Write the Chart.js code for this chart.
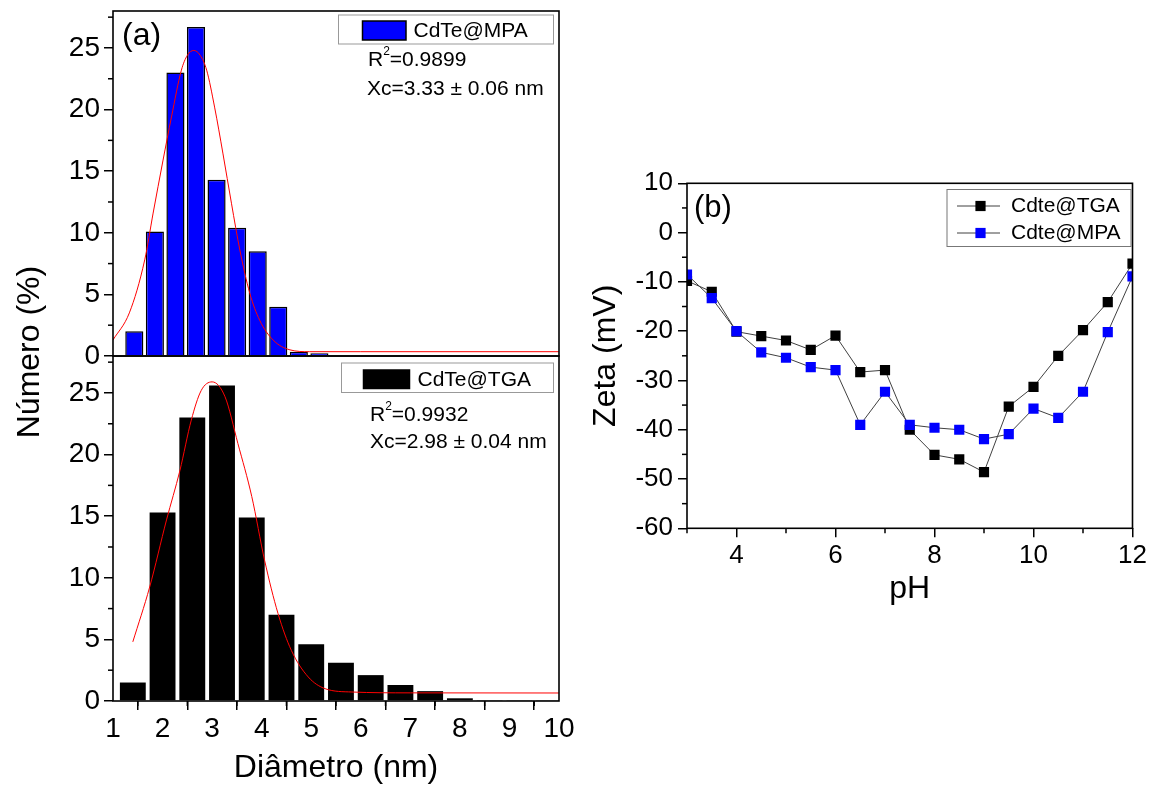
<!DOCTYPE html>
<html><head><meta charset="utf-8">
<script src="https://cdn.jsdelivr.net/npm/chart.js@4.4.1/dist/chart.umd.min.js"></script>
<style>
html,body{margin:0;padding:0;background:#fff;}
#wrap{position:relative;width:1151px;height:786px;overflow:hidden;background:#fff;}
canvas{position:absolute;left:0;top:0;}
</style></head><body>
<div id="wrap">
<canvas id="cTop" width="1151" height="786"></canvas>
<canvas id="cBot" width="1151" height="786"></canvas>
<canvas id="cZeta" width="1151" height="786"></canvas>
</div>
<script>
// ---------- data ----------
const mpaBinCenters = [1.430,1.845,2.260,2.675,3.090,3.505,3.920,4.335,4.750,5.165,5.580,5.995,6.410,6.825,7.240,7.655];
const mpaCounts     = [2.0,10.1,23.0,26.7,14.3,10.4,8.5,4.0,0.35,0.22,0.08,0.08,0.08,0.08,0.08,0.08];
const mpaFitX = [1.0,1.33,1.64,1.81,2.01,2.18,2.38,2.50,2.63,2.76,2.89,3.05,3.22,3.39,3.56,3.76,3.96,4.23,4.57,4.97,6.0,10.0];
const mpaFitY = [1.3,3.5,7.8,11.6,15.9,19.4,23.2,24.4,24.8,24.4,23.2,20.2,16.4,12.4,8.6,5.1,2.9,1.3,0.5,0.35,0.35,0.35];

const tgaBinCenters = [1.4,2.0,2.6,3.2,3.8,4.4,5.0,5.6,6.2,6.8,7.4,8.0,8.6,9.2,9.8];
const tgaCounts     = [1.5,15.3,23.0,25.6,14.9,7.0,4.6,3.1,2.1,1.3,0.8,0.22,0.08,0.08,0.08];
const tgaFitX = [1.40,1.74,2.08,2.35,2.58,2.78,3.00,3.26,3.52,3.80,4.06,4.33,4.60,4.94,5.28,5.82,7.0,10.0];
const tgaFitY = [4.8,9.25,14.7,18.7,22.8,25.2,25.9,24.7,20.9,16.6,11.4,7.1,4.1,1.95,1.0,0.73,0.66,0.65];

const histYTicks = [0,5,10,15,20,25];
const histYMinor = [2.5,7.5,12.5,17.5,22.5,27.5];
const diamTicks  = [1,2,3,4,5,6,7,8,9,10];
const diamMinor  = [1.5,2.5,3.5,4.5,5.5,6.5,7.5,8.5,9.5];

const pH      = [3,3.5,4,4.5,5,5.5,6,6.5,7,7.5,8,8.5,9,9.5,10,10.5,11,11.5,12];
const zetaTGA = [-9.8,-12.0,-20.1,-21.0,-21.9,-23.8,-20.9,-28.3,-27.9,-40.0,-45.1,-46.0,-48.6,-35.3,-31.3,-25.0,-19.8,-14.1,-6.3];
const zetaMPA = [-8.5,-13.3,-20.0,-24.3,-25.4,-27.3,-27.9,-39.0,-32.3,-39.0,-39.6,-40.0,-41.9,-40.9,-35.7,-37.6,-32.3,-20.2,-8.9];
const zetaYTicks = [-60,-50,-40,-30,-20,-10,0,10];
const zetaYMinor = [-55,-45,-35,-25,-15,-5,5];
const pHTicks = [4,6,8,10,12];
const pHMinor = [3,5,7,9,11];

// ---------- helpers ----------
const FONT = '"Liberation Sans", Arial, Helvetica, sans-serif';
Chart.defaults.font.family = FONT;
Chart.defaults.color = '#000';

function fitY(w){ return s => { s.width = w; s.paddingTop = 0; s.paddingBottom = 0; s.paddingLeft = 0; s.paddingRight = 0; }; }
function fitX(h){ return s => { s.height = h; s.paddingTop = 0; s.paddingBottom = 0; s.paddingLeft = 0; s.paddingRight = 0; }; }
function setTicks(vals){ return s => { s.ticks = vals.map(v => ({value: v})); }; }
const gridOpts = {display: true, drawOnChartArea: false, drawTicks: true, tickLength: 9, color: '#000', lineWidth: 1.5};

const framePlugin = {
  id: 'frame',
  afterDraw(chart) {
    const a = chart.chartArea, ctx = chart.ctx;
    ctx.save(); ctx.strokeStyle = '#000'; ctx.lineWidth = 1.6;
    ctx.strokeRect(a.left, a.top, a.right - a.left, a.bottom - a.top);
    ctx.restore();
  }
};
const minorPlugin = {
  id: 'minorTicks',
  afterDraw(chart, args, opts) {
    const ctx = chart.ctx;
    ctx.save(); ctx.strokeStyle = '#000'; ctx.lineWidth = 1.5;
    (opts.items || []).forEach(it => {
      const sc = chart.scales[it.scale];
      it.values.forEach(v => {
        const p = sc.getPixelForValue(v);
        ctx.beginPath();
        if (sc.isHorizontal()) { ctx.moveTo(p, sc.top); ctx.lineTo(p, sc.top + it.len); }
        else { ctx.moveTo(sc.right, p); ctx.lineTo(sc.right - it.len, p); }
        ctx.stroke();
      });
    });
    ctx.restore();
  }
};
const textPlugin = {
  id: 'texts',
  afterDraw(chart, args, opts) {
    const ctx = chart.ctx;
    (opts.items || []).forEach(it => {
      ctx.save();
      ctx.fillStyle = it.color || '#000';
      ctx.translate(it.x, it.y);
      if (it.rotate) ctx.rotate(it.rotate);
      ctx.textAlign = it.align || 'left';
      ctx.textBaseline = it.baseline || 'alphabetic';
      let x = 0;
      const parts = it.parts || [{t: it.text}];
      parts.forEach(p => {
        ctx.font = (p.sup ? it.supSize : it.size) + 'px ' + FONT;
        ctx.fillText(p.t, x, p.sup ? -it.supRise : 0);
        x += ctx.measureText(p.t).width;
      });
      ctx.restore();
    });
  }
};
const histLegendPlugin = {
  id: 'histLegend',
  afterDraw(chart, args, o) {
    if (!o.box) return;
    const ctx = chart.ctx, ds = chart.data.datasets[o.datasetIndex];
    ctx.save();
    ctx.strokeStyle = '#999'; ctx.lineWidth = 1;
    ctx.strokeRect(o.box[0], o.box[1], o.box[2] - o.box[0], o.box[3] - o.box[1]);
    ctx.fillStyle = ds.backgroundColor;
    ctx.fillRect(o.swatch[0], o.swatch[1], o.swatch[2] - o.swatch[0], o.swatch[3] - o.swatch[1]);
    ctx.strokeStyle = '#000'; ctx.lineWidth = 1.5;
    ctx.strokeRect(o.swatch[0], o.swatch[1], o.swatch[2] - o.swatch[0], o.swatch[3] - o.swatch[1]);
    ctx.fillStyle = '#000'; ctx.font = o.size + 'px ' + FONT; ctx.textBaseline = 'alphabetic'; ctx.textAlign = 'left';
    ctx.fillText(ds.label, o.textX, o.textY);
    ctx.restore();
  }
};
const zetaLegendPlugin = {
  id: 'zetaLegend',
  afterDraw(chart, args, o) {
    if (!o.box) return;
    const ctx = chart.ctx;
    ctx.save();
    ctx.strokeStyle = '#777'; ctx.lineWidth = 1;
    ctx.strokeRect(o.box[0], o.box[1], o.box[2] - o.box[0], o.box[3] - o.box[1]);
    o.entries.forEach(e => {
      const ds = chart.data.datasets[e.datasetIndex];
      ctx.strokeStyle = ds.borderColor; ctx.lineWidth = ds.borderWidth;
      ctx.beginPath(); ctx.moveTo(o.lineX[0], e.y); ctx.lineTo(o.lineX[1], e.y); ctx.stroke();
      const h = o.marker / 2;
      ctx.fillStyle = ds.pointBackgroundColor;
      ctx.fillRect(o.markerX - h, e.y - h, o.marker, o.marker);
      ctx.fillStyle = '#000'; ctx.font = o.size + 'px ' + FONT; ctx.textBaseline = 'middle'; ctx.textAlign = 'left';
      ctx.fillText(ds.label, o.textX, e.y);
    });
    ctx.restore();
  }
};

// ---------- (a) top: CdTe@MPA ----------
new Chart(document.getElementById('cTop'), {
  type: 'bar',
  data: {datasets: [
    {type: 'line', label: 'fit', data: mpaFitX.map((x, i) => ({x, y: mpaFitY[i]})),
     borderColor: '#ff0000', borderWidth: 1, pointRadius: 0, cubicInterpolationMode: 'monotone', fill: false, order: 0},
    {type: 'bar', label: 'CdTe@MPA', data: mpaBinCenters.map((x, i) => ({x, y: mpaCounts[i]})),
     backgroundColor: '#0000ff', borderColor: '#000', borderWidth: 1.5, categoryPercentage: 1, barPercentage: 0.88, order: 1}
  ]},
  options: {
    responsive: false, animation: false, events: [],
    layout: {padding: {left: 0, right: 592, top: 11, bottom: 430}},
    scales: {
      x: {type: 'linear', min: 1, max: 10, offset: false, display: false, afterFit: fitX(0)},
      y: {min: 0, max: 28, afterBuildTicks: setTicks(histYTicks), afterFit: fitY(113),
          ticks: {font: {size: 28}, color: '#000', padding: 4, callback: v => String(v)},
          grid: gridOpts, border: {display: false}}
    },
    plugins: {
      legend: {display: false}, tooltip: {enabled: false},
      minorTicks: {items: [{scale: 'y', values: histYMinor, len: 5}]},
      histLegend: {datasetIndex: 1, box: [338.5, 15, 553.5, 44], swatch: [362.5, 21, 406, 40], textX: 413.5, textY: 37, size: 21},
      texts: {items: [
        {x: 122, y: 45, size: 32, text: '(a)'},
        {x: 368, y: 66, size: 21, supSize: 12, supRise: 11, parts: [{t: 'R'}, {t: '2', sup: true}, {t: '=0.9899'}]},
        {x: 367, y: 95, size: 21, text: 'Xc=3.33 \u00b1 0.06 nm'}
      ]}
    }
  },
  plugins: [minorPlugin, framePlugin, histLegendPlugin, textPlugin]
});

// ---------- (a) bottom: CdTe@TGA ----------
new Chart(document.getElementById('cBot'), {
  type: 'bar',
  data: {datasets: [
    {type: 'line', label: 'fit', data: tgaFitX.map((x, i) => ({x, y: tgaFitY[i]})),
     borderColor: '#ff0000', borderWidth: 1, pointRadius: 0, cubicInterpolationMode: 'monotone', fill: false, order: 0},
    {type: 'bar', label: 'CdTe@TGA', data: tgaBinCenters.map((x, i) => ({x, y: tgaCounts[i]})),
     backgroundColor: '#000000', borderColor: '#000', borderWidth: 0, categoryPercentage: 1, barPercentage: 0.87, order: 1}
  ]},
  options: {
    responsive: false, animation: false, events: [],
    layout: {padding: {left: 0, right: 592, top: 356, bottom: 2}},
    scales: {
      x: {type: 'linear', min: 1, max: 10, offset: false, afterBuildTicks: setTicks(diamTicks), afterFit: fitX(83),
          ticks: {font: {size: 28}, color: '#000', padding: 2, maxRotation: 0, autoSkip: false, callback: v => String(v)},
          grid: gridOpts, border: {display: false},
          title: {display: true, text: 'Di\u00e2metro (nm)', font: {size: 32, lineHeight: 1}, padding: 0, color: '#000'}},
      y: {min: 0, max: 28, afterBuildTicks: setTicks(histYTicks), afterFit: fitY(113),
          ticks: {font: {size: 28}, color: '#000', padding: 4, callback: v => String(v)},
          grid: gridOpts, border: {display: false}}
    },
    plugins: {
      legend: {display: false}, tooltip: {enabled: false},
      minorTicks: {items: [{scale: 'y', values: histYMinor, len: 5}, {scale: 'x', values: diamMinor, len: 5}]},
      histLegend: {datasetIndex: 1, box: [341.5, 363, 553.5, 392.5], swatch: [363.5, 370, 409.5, 388.5], textX: 417.5, textY: 386, size: 21},
      texts: {items: [
        {x: 30, y: 352, size: 32, text: 'N\u00famero (%)', rotate: -Math.PI / 2, align: 'center', baseline: 'middle'},
        {x: 370, y: 421, size: 21, supSize: 12, supRise: 11, parts: [{t: 'R'}, {t: '2', sup: true}, {t: '=0.9932'}]},
        {x: 370, y: 447.5, size: 21, text: 'Xc=2.98 \u00b1 0.04 nm'}
      ]}
    }
  },
  plugins: [minorPlugin, framePlugin, histLegendPlugin, textPlugin]
});

// ---------- (b) zeta potential ----------
new Chart(document.getElementById('cZeta'), {
  type: 'line',
  data: {datasets: [
    {label: 'Cdte@TGA', data: pH.map((x, i) => ({x, y: zetaTGA[i]})), borderColor: '#404040', borderWidth: 1,
     pointStyle: 'rect', pointRadius: 7.2, pointBackgroundColor: '#000000', pointBorderColor: '#000000', pointBorderWidth: 0,
     tension: 0, clip: 0, order: 1},
    {label: 'Cdte@MPA', data: pH.map((x, i) => ({x, y: zetaMPA[i]})), borderColor: '#404040', borderWidth: 1,
     pointStyle: 'rect', pointRadius: 7.2, pointBackgroundColor: '#0000ff', pointBorderColor: '#0000ff', pointBorderWidth: 0,
     tension: 0, clip: 0, order: 0}
  ]},
  options: {
    responsive: false, animation: false, events: [],
    layout: {padding: {left: 590, right: 18.5, top: 183.3, bottom: 180.5}},
    scales: {
      x: {type: 'linear', min: 3, max: 12, afterBuildTicks: setTicks(pHTicks), afterFit: fitX(77.2),
          ticks: {font: {size: 26}, color: '#000', padding: 3, maxRotation: 0, autoSkip: false, callback: v => String(v)},
          grid: gridOpts, border: {display: false},
          title: {display: true, text: 'pH', font: {size: 32, lineHeight: 1}, padding: 0, color: '#000'}},
      y: {min: -60, max: 10, afterBuildTicks: setTicks(zetaYTicks), afterFit: fitY(97),
          ticks: {font: {size: 26}, color: '#000', padding: 5, callback: v => String(v)},
          grid: gridOpts, border: {display: false},
          title: {display: true, text: 'Zeta (mV)', font: {size: 32, lineHeight: 1}, padding: 0, color: '#000'}}
    },
    plugins: {
      legend: {display: false}, tooltip: {enabled: false},
      minorTicks: {items: [{scale: 'y', values: zetaYMinor, len: 5}, {scale: 'x', values: pHMinor, len: 5}]},
      zetaLegend: {box: [947, 189.5, 1131, 246.5], lineX: [957, 1000], markerX: 980.5, marker: 10.2, textX: 1011, size: 21,
                   entries: [{datasetIndex: 0, y: 206}, {datasetIndex: 1, y: 233}]},
      texts: {items: [{x: 694, y: 217, size: 31, text: '(b)'}]}
    }
  },
  plugins: [minorPlugin, framePlugin, zetaLegendPlugin, textPlugin]
});
</script>
</body></html>
